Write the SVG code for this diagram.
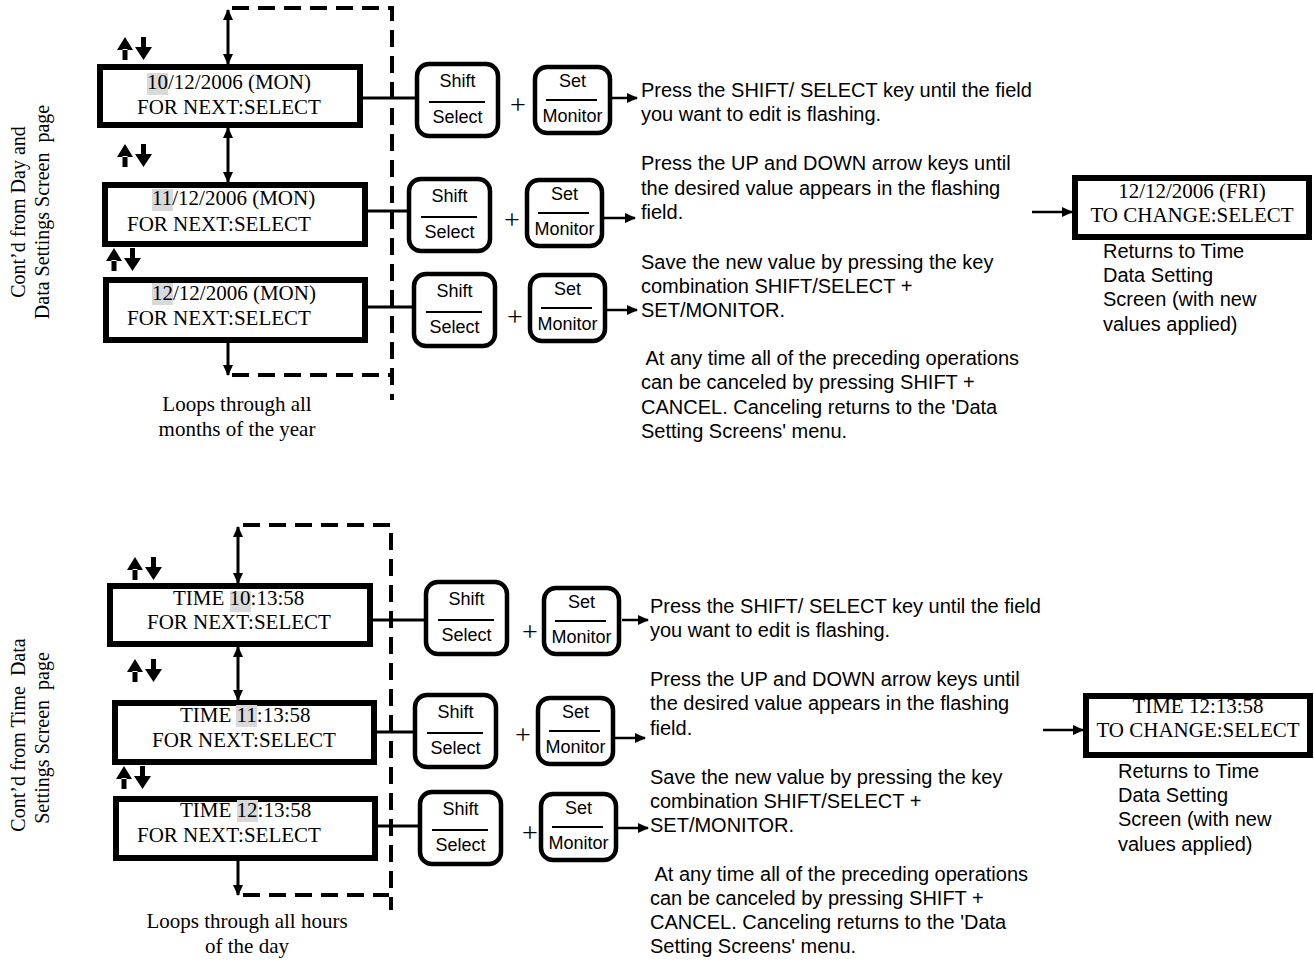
<svg xmlns="http://www.w3.org/2000/svg" xmlns:xlink="http://www.w3.org/1999/xlink" width="1314" height="962" viewBox="0 0 1314 962">
<style>
.scr{fill:#fff;stroke:#000;stroke-width:6}
.st{font-family:"Liberation Serif","Times New Roman",serif;font-size:21px;fill:#000}
.hl{fill:#d9d9d9}
.key{fill:#fff;stroke:#000;stroke-width:4.5}
.kt{font-family:"Liberation Sans",Arial,sans-serif;font-size:18px;fill:#000;text-anchor:middle}
.plus{font-family:"Liberation Serif","Times New Roman",serif;font-size:28px;fill:#000;text-anchor:middle}
.desc{font-family:"Liberation Sans",Arial,sans-serif;font-size:20px;fill:#000}
.ln{fill:none;stroke:#000;stroke-width:3}
.dash{fill:none;stroke:#000;stroke-width:4;stroke-dasharray:17 9}
.arr{fill:none;stroke:#000;stroke-width:2.5;marker-end:url(#ah)}
.dbl{fill:none;stroke:#000;stroke-width:3;marker-start:url(#ah);marker-end:url(#ah)}
.one{fill:none;stroke:#000;stroke-width:3;marker-end:url(#ah)}
</style>
<defs>
<marker id="ah" markerUnits="userSpaceOnUse" markerWidth="11" markerHeight="10" refX="10" refY="5" orient="auto-start-reverse"><path d="M0,0 L11,5 L0,10 z" fill="#000"/></marker>
<g id="ud"><path d="M8,0 L0,13 L16,13 z M5.5,12 H10.5 V23 H5.5 z M18,10 L35,10 L26.5,23 z M24,0 H29 V11 H24 z" fill="#000"/></g>
<g id="shiftkey"><rect x="2" y="2" width="81" height="72" rx="12" class="key"/><text x="42.5" y="25" class="kt">Shift</text><line x1="14" y1="40" x2="70" y2="40" stroke="#000" stroke-width="2"/><text x="42.5" y="61" class="kt">Select</text></g>
<g id="setkey"><rect x="2" y="2" width="75" height="66" rx="12" class="key"/><text x="39.5" y="22" class="kt">Set</text><line x1="13" y1="35" x2="64" y2="35" stroke="#000" stroke-width="2"/><text x="39.5" y="57" class="kt">Monitor</text></g>
</defs>

<g id="connectors">
<path class="dash" d="M232,8 H392 V400"/>
<path class="dash" d="M232,375 H390"/>
<path class="dbl" d="M228,64 V10"/>
<path class="dbl" d="M228,128 V182"/>
<path class="one" d="M228,343 V375"/>
<path class="ln" d="M363,98 H415"/>
<path class="ln" d="M360,211 H407"/>
<path class="ln" d="M368,307 H412"/>
<path class="arr" d="M612,98 H637"/>
<path class="arr" d="M603,218 H635"/>
<path class="arr" d="M607,310 H637"/>
<path class="arr" d="M1032,212 H1072"/>

<path class="dash" d="M243,525 H391 V910"/>
<path class="dash" d="M243,895 H389"/>
<path class="dbl" d="M238,583 V527"/>
<path class="dbl" d="M238,647 V700"/>
<path class="one" d="M238,861 V895"/>
<path class="ln" d="M373,620 H424"/>
<path class="ln" d="M370,732 H413"/>
<path class="ln" d="M378,826 H418"/>
<path class="arr" d="M622,620 H648"/>
<path class="arr" d="M615,738 H645"/>
<path class="arr" d="M618,828 H648"/>
<path class="arr" d="M1043,730 H1083"/>
</g>

<g id="sideLabelTop"><text class="st" text-anchor="middle" transform="translate(25,212) rotate(-90)" style="font-size:20px">Cont’d from Day and</text><text class="st" text-anchor="middle" transform="translate(49,212) rotate(-90)" style="font-size:20px" xml:space="preserve">Data Settings Screen  page</text></g>
<g id="sideLabelBottom"><text class="st" text-anchor="middle" transform="translate(25,735) rotate(-90)" style="font-size:20px" xml:space="preserve">Cont’d from Time  Data</text><text class="st" text-anchor="middle" transform="translate(49,738) rotate(-90)" style="font-size:20px" xml:space="preserve">Settings Screen  page</text></g>

<g id="udArrows"><use href="#ud" x="117" y="37"/><use href="#ud" x="117" y="144"/><use href="#ud" x="106" y="248"/><use href="#ud" x="127" y="557"/><use href="#ud" x="127" y="659"/><use href="#ud" x="116" y="766"/></g>

<g id="screen-d10"><rect class="scr" x="100" y="67" width="260" height="58"/><rect class="hl" x="147" y="73" width="21" height="22"/><text class="st" x="147" y="89">10/12/2006 (MON)</text><text class="st" x="137" y="114">FOR NEXT:SELECT</text></g>
<g id="screen-d11"><rect class="scr" x="105" y="185" width="260" height="59"/><rect class="hl" x="152" y="189" width="21" height="22"/><text class="st" x="152" y="205">11/12/2006 (MON)</text><text class="st" x="127" y="231">FOR NEXT:SELECT</text></g>
<g id="screen-d12"><rect class="scr" x="106" y="280" width="259" height="60"/><rect class="hl" x="152" y="283" width="21" height="22"/><text class="st" x="152" y="300">12/12/2006 (MON)</text><text class="st" x="127" y="325">FOR NEXT:SELECT</text></g>
<g id="loopTop"><text class="st" x="237" y="411" text-anchor="middle">Loops through all</text><text class="st" x="237" y="436" text-anchor="middle">months of the year</text></g>

<g id="keys-top-1"><use href="#shiftkey" x="415" y="62"/><text class="plus" x="518" y="114">+</text><use href="#setkey" x="533" y="65"/></g>
<g id="keys-top-2"><use href="#shiftkey" x="407" y="177"/><text class="plus" x="512" y="229">+</text><use href="#setkey" x="525" y="178"/></g>
<g id="keys-top-3"><use href="#shiftkey" x="412" y="272"/><text class="plus" x="515" y="326">+</text><use href="#setkey" x="528" y="273"/></g>

<g id="descTop" class="desc">
<text x="641" y="97">Press the SHIFT/ SELECT key until the field</text>
<text x="641" y="121">you want to edit is flashing.</text>
<text x="641" y="170">Press the UP and DOWN arrow keys until</text>
<text x="641" y="195">the desired value appears in the flashing</text>
<text x="641" y="219">field.</text>
<text x="641" y="269">Save the new value by pressing the key</text>
<text x="641" y="293">combination SHIFT/SELECT +</text>
<text x="641" y="317">SET/MONITOR.</text>
<text x="641" y="365" xml:space="preserve"> At any time all of the preceding operations</text>
<text x="641" y="389">can be canceled by pressing SHIFT +</text>
<text x="641" y="414">CANCEL. Canceling returns to the 'Data</text>
<text x="641" y="438">Setting Screens' menu.</text>
</g>

<g id="screen-date-result"><rect class="scr" x="1075" y="178" width="234" height="59"/><text class="st" x="1192" y="198" text-anchor="middle">12/12/2006 (FRI)</text><text class="st" x="1192" y="222" text-anchor="middle">TO CHANGE:SELECT</text></g>
<g id="returnsTop" class="desc"><text x="1103" y="258">Returns to Time</text><text x="1103" y="282">Data Setting</text><text x="1103" y="306">Screen (with new</text><text x="1103" y="331">values applied)</text></g>

<g id="screen-t10"><rect class="scr" x="110" y="586" width="260" height="58"/><rect class="hl" x="230" y="591" width="21" height="21"/><text class="st" x="173" y="605">TIME 10:13:58</text><text class="st" x="147" y="629">FOR NEXT:SELECT</text></g>
<g id="screen-t11"><rect class="scr" x="115" y="703" width="259" height="59"/><rect class="hl" x="236" y="705" width="21" height="22"/><text class="st" x="180" y="722">TIME 11:13:58</text><text class="st" x="152" y="747">FOR NEXT:SELECT</text></g>
<g id="screen-t12"><rect class="scr" x="116" y="799" width="259" height="59"/><rect class="hl" x="237" y="800" width="21" height="22"/><text class="st" x="180" y="817">TIME 12:13:58</text><text class="st" x="137" y="842">FOR NEXT:SELECT</text></g>
<g id="loopBottom"><text class="st" x="247" y="928" text-anchor="middle">Loops through all hours</text><text class="st" x="247" y="953" text-anchor="middle">of the day</text></g>

<g id="keys-bot-1"><use href="#shiftkey" x="424" y="580"/><text class="plus" x="530" y="641">+</text><use href="#setkey" x="542" y="586"/></g>
<g id="keys-bot-2"><use href="#shiftkey" x="413" y="693"/><text class="plus" x="523" y="744">+</text><use href="#setkey" x="536" y="696"/></g>
<g id="keys-bot-3"><use href="#shiftkey" x="418" y="790"/><text class="plus" x="530" y="842">+</text><use href="#setkey" x="539" y="792"/></g>

<g id="descBottom" class="desc">
<text x="650" y="613">Press the SHIFT/ SELECT key until the field</text>
<text x="650" y="637">you want to edit is flashing.</text>
<text x="650" y="686">Press the UP and DOWN arrow keys until</text>
<text x="650" y="710">the desired value appears in the flashing</text>
<text x="650" y="735">field.</text>
<text x="650" y="784">Save the new value by pressing the key</text>
<text x="650" y="808">combination SHIFT/SELECT +</text>
<text x="650" y="832">SET/MONITOR.</text>
<text x="650" y="881" xml:space="preserve"> At any time all of the preceding operations</text>
<text x="650" y="905">can be canceled by pressing SHIFT +</text>
<text x="650" y="929">CANCEL. Canceling returns to the 'Data</text>
<text x="650" y="953">Setting Screens' menu.</text>
</g>

<g id="screen-time-result"><rect class="scr" x="1086" y="696" width="224" height="59"/><text class="st" x="1198" y="713" text-anchor="middle">TIME 12:13:58</text><text class="st" x="1198" y="737" text-anchor="middle">TO CHANGE:SELECT</text></g>
<g id="returnsBottom" class="desc"><text x="1118" y="778">Returns to Time</text><text x="1118" y="802">Data Setting</text><text x="1118" y="826">Screen (with new</text><text x="1118" y="851">values applied)</text></g>
</svg>
